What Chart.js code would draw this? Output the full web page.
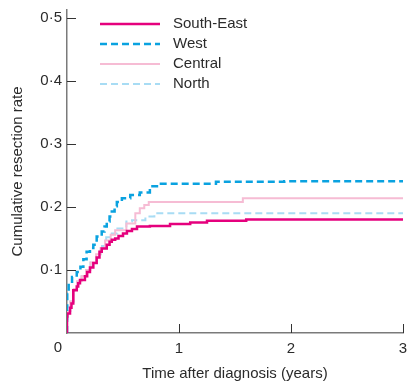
<!DOCTYPE html>
<html><head><meta charset="utf-8">
<script src="https://cdn.jsdelivr.net/npm/chart.js@4.4.1/dist/chart.umd.min.js"></script>
<style>html,body{margin:0;padding:0;background:#fff;}#wrap{width:409px;height:381px;}</style>
</head><body><div id="wrap"><canvas id="c" width="409" height="381"></canvas></div>
<script>
const seriesNames = ['South-East', 'West', 'Central', 'North'];

const southEastTimes  = [0, 0.003, 0.027, 0.04, 0.056, 0.087, 0.10, 0.116, 0.16, 0.18, 0.205, 0.235, 0.265, 0.29, 0.31, 0.355, 0.38, 0.40, 0.43, 0.46, 0.50, 0.535, 0.58, 0.625, 0.74, 0.92, 1.10, 1.25, 1.60, 2.18, 3.00];
const southEastValues = [0, 0.026, 0.031, 0.040, 0.047, 0.068, 0.074, 0.079, 0.084, 0.090, 0.097, 0.104, 0.111, 0.120, 0.129, 0.134, 0.140, 0.145, 0.148, 0.150, 0.154, 0.158, 0.162, 0.165, 0.169, 0.170, 0.173, 0.1755, 0.178, 0.180, 0.180];

const westTimes  = [0, 0.002, 0.015, 0.045, 0.087, 0.12, 0.146, 0.175, 0.205, 0.235, 0.265, 0.31, 0.335, 0.355, 0.38, 0.40, 0.425, 0.445, 0.49, 0.565, 0.65, 0.74, 0.815, 1.33, 1.94, 3.00];
const westValues = [0, 0.042, 0.063, 0.079, 0.089, 0.097, 0.105, 0.117, 0.129, 0.135, 0.140, 0.153, 0.161, 0.169, 0.177, 0.185, 0.193, 0.201, 0.208, 0.214, 0.219, 0.223, 0.233, 0.237, 0.240, 0.241];

const centralTimes  = [0, 0.005, 0.03, 0.06, 0.09, 0.13, 0.17, 0.21, 0.26, 0.30, 0.34, 0.39, 0.43, 0.53, 0.61, 0.65, 0.69, 0.73, 1.57, 1.92, 3.00];
const centralValues = [0, 0.025, 0.035, 0.050, 0.070, 0.082, 0.090, 0.100, 0.112, 0.125, 0.135, 0.147, 0.156, 0.163, 0.174, 0.190, 0.198, 0.203, 0.208, 0.214, 0.214];

const northTimes  = [0, 0.005, 0.03, 0.06, 0.09, 0.13, 0.17, 0.21, 0.26, 0.30, 0.35, 0.40, 0.45, 0.53, 0.58, 0.70, 0.78, 0.84, 3.00];
const northValues = [0, 0.022, 0.035, 0.050, 0.068, 0.080, 0.090, 0.100, 0.112, 0.125, 0.138, 0.152, 0.158, 0.166, 0.177, 0.179, 0.185, 0.190, 0.190];

const xTickValues = [0, 1, 2, 3];
const xTickLabels = ['0', '1', '2', '3'];
const yTickValues = [0, 0.1, 0.2, 0.3, 0.4, 0.5];
const yTickLabels = ['0', '0·1', '0·2', '0·3', '0·4', '0·5'];
const originLabel = '0';

const FONT = '"Liberation Sans", Arial, Helvetica, sans-serif';
const TEXT = '#2b2b2b';

function pts(t, v) { return t.map((x, i) => ({ x: x, y: v[i] })); }

const insideTicks = {
  id: 'insideTicks',
  afterDraw(chart) {
    const ctx = chart.ctx, xs = chart.scales.x, ys = chart.scales.y, a = chart.chartArea;
    ctx.save();
    ctx.strokeStyle = '#333'; ctx.lineWidth = 1;
    ys.ticks.forEach(t => {
      if (t.value === 0) return;
      const y = Math.round(ys.getPixelForValue(t.value)) + 0.5;
      ctx.beginPath(); ctx.moveTo(a.left, y); ctx.lineTo(a.left + 9, y); ctx.stroke();
    });
    xs.ticks.forEach(t => {
      if (t.value === 0) return;
      const x = Math.round(xs.getPixelForValue(t.value)) + 0.5;
      ctx.beginPath(); ctx.moveTo(x, a.bottom); ctx.lineTo(x, a.bottom - 9); ctx.stroke();
    });
    ctx.fillStyle = TEXT; ctx.font = '15px ' + FONT;
    ctx.textAlign = 'center'; ctx.textBaseline = 'middle';
    ctx.fillText(originLabel, xs.getPixelForValue(0) - 9, a.bottom + 15);
    const ds = chart.data.datasets;
    ds.forEach((d, i) => {
      const y = a.top + 14 + i * 20;
      ctx.strokeStyle = d.borderColor; ctx.lineWidth = d.borderWidth;
      ctx.setLineDash(d.borderDash || []);
      ctx.beginPath(); ctx.moveTo(100, y); ctx.lineTo(160, y); ctx.stroke();
      ctx.setLineDash([]);
      ctx.textAlign = 'left';
      ctx.fillText(d.label, 173, y);
    });
    ctx.restore();
  }
};

const tickFont = { family: FONT, size: 15 };

new Chart(document.getElementById('c'), {
  type: 'line',
  data: {
    datasets: [
      { label: seriesNames[0], data: pts(southEastTimes, southEastValues), borderColor: '#e5007d', borderWidth: 2.5, stepped: 'after', pointRadius: 0 },
      { label: seriesNames[1], data: pts(westTimes, westValues), borderColor: '#0aa2e0', borderWidth: 2.5, borderDash: [7, 4], stepped: 'after', pointRadius: 0 },
      { label: seriesNames[2], data: pts(centralTimes, centralValues), borderColor: '#f6bcd4', borderWidth: 2, stepped: 'after', pointRadius: 0 },
      { label: seriesNames[3], data: pts(northTimes, northValues), borderColor: '#a8dcf4', borderWidth: 2, borderDash: [7, 4], stepped: 'after', pointRadius: 0 }
    ]
  },
  options: {
    responsive: false, animation: false, devicePixelRatio: 1,
    layout: { padding: { left: 0, right: 6, top: 10, bottom: 0 } },
    plugins: { legend: { display: false }, tooltip: { enabled: false } },
    scales: {
      x: {
        type: 'linear', min: 0, max: 3,
        afterBuildTicks: s => { s.ticks = xTickValues.map(v => ({ value: v })); },
        afterFit: s => { s.height = 48; s.paddingLeft = 0; s.paddingRight = 0; },
        grid: { display: false, drawTicks: false },
        border: { display: true, color: '#7a7a7a', width: 1.5 },
        ticks: { padding: 7, font: tickFont, color: TEXT, maxRotation: 0,
          callback: (v) => { const i = xTickValues.indexOf(v); return (v === 0 || i < 0) ? '' : xTickLabels[i]; } },
        title: { display: true, text: 'Time after diagnosis (years)', font: tickFont, color: TEXT, padding: { top: 0, bottom: -2 } }
      },
      y: {
        type: 'linear', min: 0, max: 0.5127,
        afterBuildTicks: s => { s.ticks = yTickValues.map(v => ({ value: v })); },
        afterFit: s => { s.width = 67; s.paddingTop = 0; s.paddingBottom = 0; },
        grid: { display: false, drawTicks: false },
        border: { display: true, color: '#7a7a7a', width: 1.5 },
        ticks: { padding: 5, font: tickFont, color: TEXT,
          callback: (v) => { const i = yTickValues.findIndex(t => Math.abs(t - v) < 1e-9); return (i <= 0) ? '' : yTickLabels[i]; } },
        title: { display: true, text: 'Cumulative resection rate', font: tickFont, color: TEXT, padding: { top: 9, bottom: 0 } }
      }
    }
  },
  plugins: [insideTicks]
});
</script></body></html>
